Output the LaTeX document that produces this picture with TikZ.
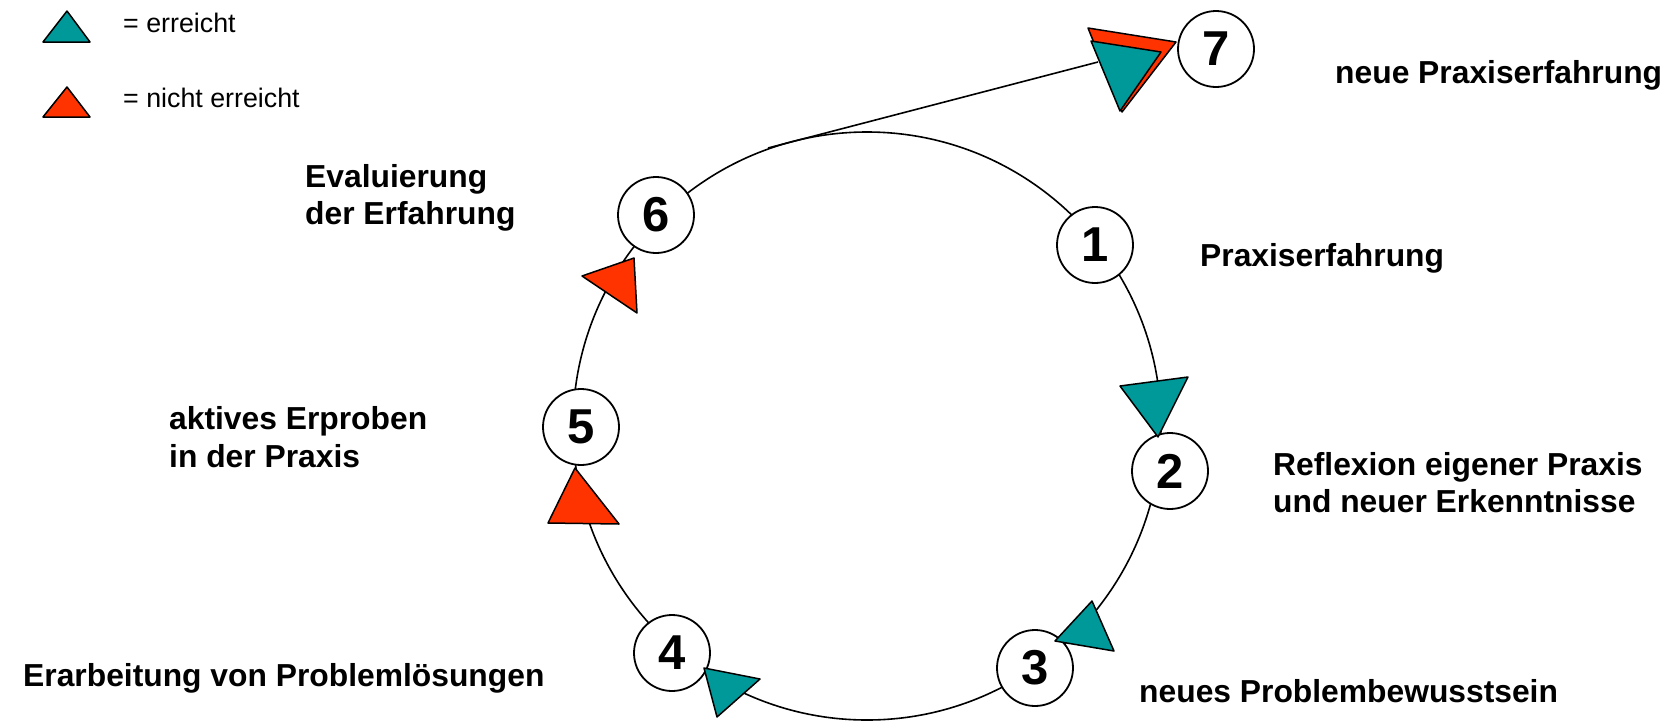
\documentclass[tikz,border=0pt]{standalone}
\usepackage{fontspec}
\setmainfont{Liberation Sans}
\definecolor{tealok}{RGB}{0,153,153}
\definecolor{rednok}{RGB}{255,51,0}
\begin{document}
\begin{tikzpicture}[x=1pt,y=-1pt,
  num/.style={circle,draw,fill=white,line width=1.8pt,minimum size=76pt,inner sep=0pt,font=\fontsize{49}{49}\selectfont\bfseries},
  lbl/.style={anchor=base west,inner sep=0pt,font=\fontsize{31.8}{38}\selectfont\bfseries},
  leg/.style={anchor=base west,inner sep=0pt,font=\fontsize{26.8}{31}\selectfont},
  ok/.style={fill=tealok,draw=black,line width=1.5pt,line join=round},
  nok/.style={fill=rednok,draw=black,line width=1.5pt,line join=round},
  ring/.style={line width=1.6pt}]
\useasboundingbox (0,0) rectangle (1671,721);

% legend
\draw[ok] (67,11) -- (43,42) -- (90,42) -- cycle;
\draw[nok] (67,87) -- (43,117) -- (90,117) -- cycle;
\node[leg] (leg1) at (123,32) {= erreicht};
\node[leg] (leg2) at (123,107) {= nicht erreicht};

% cycle
\coordinate (c) at (867,426);
\draw[ring] (c) circle[radius=294];
\coordinate (s7) at (768,148);
\coordinate (t7) at (1098,62);
\draw[ring] (s7) -- (t7);

\node[num] (n1) at (1095,245) {1};
\node[num] (n2) at (1170,471) {2};
\node[num] (n3) at (1035,668) {3};
\node[num] (n4) at (672,653) {4};
\node[num] (n5) at (581,427) {5};
\node[num] (n6) at (656,215) {6};
\node[num] (n7) at (1216,49) {7};

% markers
\draw[ok] (1120,386) -- (1188,377) -- (1158,437) -- cycle;
\draw[ok] (1055,641) -- (1092,601) -- (1114,651) -- cycle;
\draw[ok] (704,668) -- (760,679) -- (717,717) -- cycle;
\draw[nok] (575,468) -- (548,523) -- (619,524) -- cycle;
\draw[nok] (634,258) -- (582,276) -- (637,313) -- cycle;
\draw[nok] (1088,28) -- (1176,42) -- (1122,112) -- cycle;
\draw[ok] (1091,41) -- (1161,52) -- (1120,111) -- cycle;

% labels
\node[lbl] (lab7) at (1335,83) {neue Praxiserfahrung};
\node[lbl] (lab6a) at (305,187) {Evaluierung};
\node[lbl] (lab6b) at (305,224) {der Erfahrung};
\node[lbl] (lab1) at (1200,266) {Praxiserfahrung};
\node[lbl] (lab5a) at (169,429) {aktives Erproben};
\node[lbl] (lab5b) at (169,467) {in der Praxis};
\node[lbl] (lab2a) at (1273,475) {Reflexion eigener Praxis};
\node[lbl] (lab2b) at (1273,512) {und neuer Erkenntnisse};
\node[lbl] (lab4) at (23,686) {Erarbeitung von Problemlösungen};
\node[lbl] (lab3) at (1139,702) {neues Problembewusstsein};
\end{tikzpicture}
\end{document}
